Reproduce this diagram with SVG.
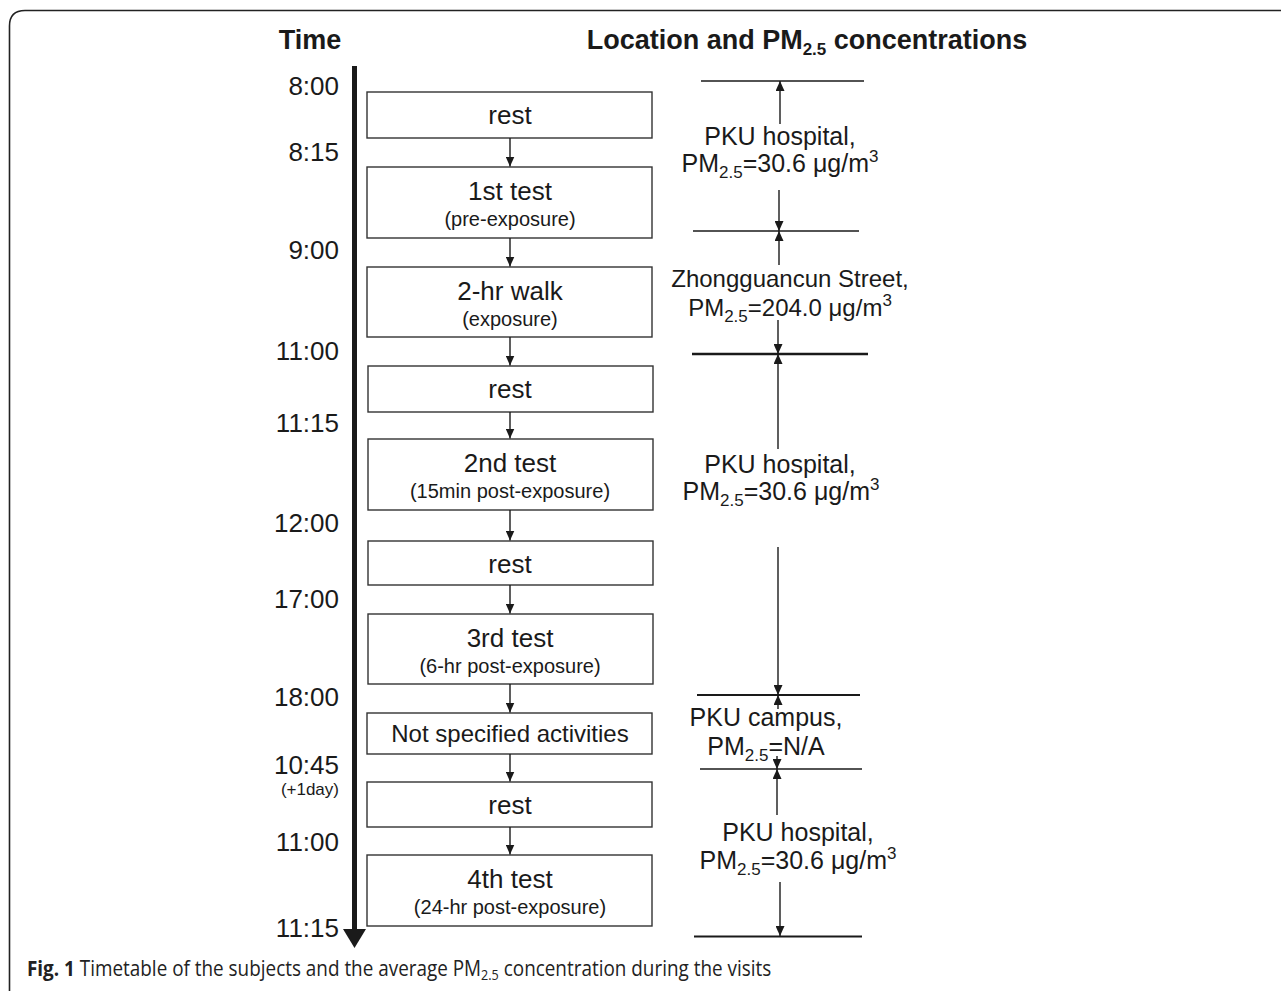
<svg xmlns="http://www.w3.org/2000/svg" width="1281" height="991" viewBox="0 0 1281 991">
<style>
.t{font-family:"Liberation Sans",Arial,sans-serif;fill:#1a1a1a}
.hd{font-size:27px;font-weight:bold}
.tm{font-size:26px;text-anchor:end}
.bx{fill:#fff;stroke:#333;stroke-width:1.4}
.lb{font-size:26px;text-anchor:middle}
.sb{font-size:20px;text-anchor:middle}
.rt{font-size:25px;text-anchor:middle}
.cn{stroke:#1a1a1a;stroke-width:1.4;fill:none}
.hl{stroke:#1a1a1a;fill:none}
</style>
<defs>
<marker id="ah" viewBox="0 0 10 9" refX="10" refY="4.5" markerWidth="10" markerHeight="9" markerUnits="userSpaceOnUse" orient="auto">
<path d="M0,0 L10,4.5 L0,9 z" fill="#1a1a1a"/>
</marker>
</defs>
<rect width="1281" height="991" fill="#fff"/>
<path d="M9.5,991 V26 Q9.5,10.5 25,10.5 H1281" fill="none" stroke="#222" stroke-width="1.6"/>

<g id="headers">
<text class="t hd" x="310" y="49" text-anchor="middle">Time</text>
<text class="t hd" x="807" y="49" text-anchor="middle">Location and PM<tspan font-size="17" dy="6">2.5</tspan><tspan dy="-6"> concentrations</tspan></text>
</g>

<g id="timeline">
<line x1="354.5" y1="66" x2="354.5" y2="930" stroke="#1a1a1a" stroke-width="5"/>
<path d="M343,929 L366,929 L354.5,948 z" fill="#1a1a1a"/>
<text class="t tm" x="339" y="95">8:00</text>
<text class="t tm" x="339" y="161">8:15</text>
<text class="t tm" x="339" y="259">9:00</text>
<text class="t tm" x="339" y="360">11:00</text>
<text class="t tm" x="339" y="432">11:15</text>
<text class="t tm" x="339" y="532">12:00</text>
<text class="t tm" x="339" y="608">17:00</text>
<text class="t tm" x="339" y="706">18:00</text>
<text class="t tm" x="339" y="774">10:45</text>
<text class="t" x="339" y="795" font-size="17" text-anchor="end">(+1day)</text>
<text class="t tm" x="339" y="851">11:00</text>
<text class="t tm" x="339" y="937">11:15</text>
</g>

<g id="box-rest1"><rect class="bx" x="367" y="92" width="285" height="46"/><text class="t lb" x="510" y="124">rest</text></g>
<g id="box-test1"><rect class="bx" x="367" y="167" width="285" height="71"/><text class="t lb" x="510" y="200">1st test</text><text class="t sb" x="510" y="226">(pre-exposure)</text></g>
<g id="box-walk"><rect class="bx" x="367" y="267" width="285" height="70"/><text class="t lb" x="510" y="300">2-hr walk</text><text class="t sb" x="510" y="326">(exposure)</text></g>
<g id="box-rest2"><rect class="bx" x="368" y="366" width="285" height="46"/><text class="t lb" x="510" y="398">rest</text></g>
<g id="box-test2"><rect class="bx" x="368" y="439" width="285" height="71"/><text class="t lb" x="510" y="472">2nd test</text><text class="t sb" x="510" y="498">(15min post-exposure)</text></g>
<g id="box-rest3"><rect class="bx" x="368" y="541" width="285" height="44"/><text class="t lb" x="510" y="573">rest</text></g>
<g id="box-test3"><rect class="bx" x="368" y="614" width="285" height="70"/><text class="t lb" x="510" y="647">3rd test</text><text class="t sb" x="510" y="673">(6-hr post-exposure)</text></g>
<g id="box-ns"><rect class="bx" x="367" y="713" width="285" height="41"/><text class="t" x="510" y="742" font-size="24" text-anchor="middle">Not specified activities</text></g>
<g id="box-rest4"><rect class="bx" x="367" y="782" width="285" height="45"/><text class="t lb" x="510" y="814">rest</text></g>
<g id="box-test4"><rect class="bx" x="367" y="855" width="285" height="71"/><text class="t lb" x="510" y="888">4th test</text><text class="t sb" x="510" y="914">(24-hr post-exposure)</text></g>

<g id="locations">
<text class="t rt" x="780" y="145">PKU hospital,</text>
<text class="t rt" x="780" y="172">PM<tspan font-size="17" dy="6">2.5</tspan><tspan dy="-6">=30.6 μg/m</tspan><tspan font-size="17" dy="-10">3</tspan></text>
<text class="t" x="790" y="287" font-size="24" text-anchor="middle">Zhongguancun Street,</text>
<text class="t" x="790" y="316" font-size="24" text-anchor="middle">PM<tspan font-size="17" dy="6">2.5</tspan><tspan dy="-6">=204.0 μg/m</tspan><tspan font-size="17" dy="-10">3</tspan></text>
<text class="t rt" x="780" y="473">PKU hospital,</text>
<text class="t rt" x="781" y="500">PM<tspan font-size="17" dy="6">2.5</tspan><tspan dy="-6">=30.6 μg/m</tspan><tspan font-size="17" dy="-10">3</tspan></text>
<text class="t rt" x="766" y="726">PKU campus,</text>
<text class="t rt" x="766" y="755">PM<tspan font-size="17" dy="6">2.5</tspan><tspan dy="-6">=N/A</tspan></text>
<text class="t rt" x="798" y="841">PKU hospital,</text>
<text class="t rt" x="798" y="869">PM<tspan font-size="17" dy="6">2.5</tspan><tspan dy="-6">=30.6 μg/m</tspan><tspan font-size="17" dy="-10">3</tspan></text>
</g>

<g id="connectors">
<line class="cn" x1="510" y1="138" x2="510" y2="166.5" marker-end="url(#ah)"/>
<line class="cn" x1="510" y1="238" x2="510" y2="266.5" marker-end="url(#ah)"/>
<line class="cn" x1="510" y1="337" x2="510" y2="365.5" marker-end="url(#ah)"/>
<line class="cn" x1="510" y1="412" x2="510" y2="438.5" marker-end="url(#ah)"/>
<line class="cn" x1="510" y1="510" x2="510" y2="540.5" marker-end="url(#ah)"/>
<line class="cn" x1="510" y1="585" x2="510" y2="613.5" marker-end="url(#ah)"/>
<line class="cn" x1="510" y1="684" x2="510" y2="712.5" marker-end="url(#ah)"/>
<line class="cn" x1="510" y1="754" x2="510" y2="781.5" marker-end="url(#ah)"/>
<line class="cn" x1="510" y1="827" x2="510" y2="854.5" marker-end="url(#ah)"/>

<line class="hl" x1="701" y1="81" x2="864" y2="81" stroke-width="1.6"/>
<line class="hl" x1="693" y1="231" x2="859" y2="231" stroke-width="1.6"/>
<line class="hl" x1="692" y1="354" x2="868" y2="354" stroke-width="2.4"/>
<line class="hl" x1="697" y1="695" x2="860" y2="695" stroke-width="2"/>
<line class="hl" x1="700" y1="769" x2="862" y2="769" stroke-width="1.6"/>
<line class="hl" x1="694" y1="936.5" x2="862" y2="936.5" stroke-width="2"/>

<line class="cn" x1="780" y1="124" x2="780" y2="81" marker-end="url(#ah)"/>
<line class="cn" x1="779" y1="190" x2="779" y2="231" marker-end="url(#ah)"/>
<line class="cn" x1="779" y1="265" x2="779" y2="231" marker-end="url(#ah)"/>
<line class="cn" x1="778" y1="320" x2="778" y2="354" marker-end="url(#ah)"/>
<line class="cn" x1="778" y1="449" x2="778" y2="354" marker-end="url(#ah)"/>
<line class="cn" x1="778" y1="547" x2="778" y2="695" marker-end="url(#ah)"/>
<line class="cn" x1="778" y1="709" x2="778" y2="695" marker-end="url(#ah)"/>
<line class="cn" x1="777" y1="756" x2="777" y2="769" marker-end="url(#ah)"/>
<line class="cn" x1="777" y1="815" x2="777" y2="769" marker-end="url(#ah)"/>
<line class="cn" x1="780" y1="882" x2="780" y2="936" marker-end="url(#ah)"/>
</g>

<g id="caption" transform="translate(27,0) scale(0.9,1) translate(-27,0)">
<text x="27" y="976" font-family="'Open Sans','Liberation Sans',sans-serif" font-size="21" fill="#222"><tspan font-weight="bold">Fig. 1</tspan> Timetable of the subjects and the average PM<tspan font-size="14" dy="4">2.5</tspan><tspan dy="-4"> concentration during the visits</tspan></text>
</g>
</svg>
